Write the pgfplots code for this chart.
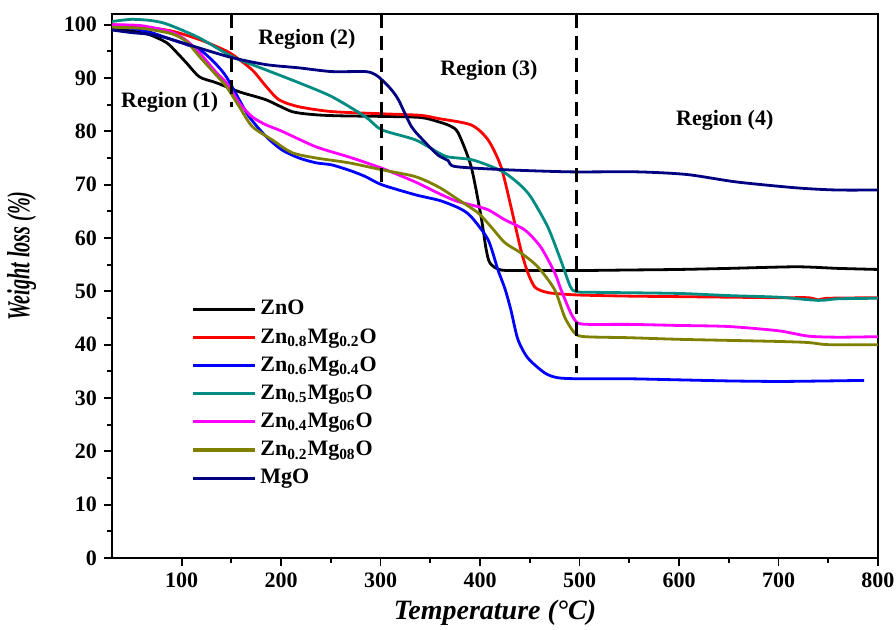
\documentclass[border=0pt]{standalone}
\usepackage{fontspec}
\setmainfont{Liberation Serif}
\usepackage{pgfplots}
\pgfplotsset{compat=1.18}
\definecolor{cteal}{RGB}{0,140,130}
\definecolor{colive}{RGB}{128,128,0}
\definecolor{cnavy}{RGB}{0,0,128}
\definecolor{cmag}{RGB}{255,0,255}
\begin{document}
\begin{tikzpicture}
\useasboundingbox (-56pt,-36pt) rectangle (392pt,279pt);
\begin{axis}[
  scale only axis, width=383pt, height=272pt,
  xmin=30, xmax=800, ymin=0, ymax=102,
  xtick={100,200,...,800}, ytick={0,10,...,100},
  minor x tick num=1, minor y tick num=1,
  tick pos=left, tick align=outside,
  major tick length=4pt, minor tick length=2.5pt,
  every tick/.style={black, line width=0.9pt},
  axis line style={line width=1pt},
  /pgf/number format/assume math mode=true,
  ticklabel style={font=\fontsize{11}{13}\selectfont\bfseries},
  xlabel={\fontsize{14}{16}\selectfont\bfseries\itshape Temperature (°C)},
  ylabel={\scalebox{0.63}[1]{\fontsize{16}{18}\selectfont\bfseries\itshape Weight loss (\%)}},
  xlabel style={yshift=1pt},
  ylabel style={at={(axis description cs:-0.118,0.555)}, anchor=center},
  legend style={draw=none, fill=none, at={(0.095,0.489)}, anchor=north west,
    font=\fontsize{11}{13}\selectfont\bfseries, row sep=1.3pt,
    legend cell align=left},
  legend image code/.code={\draw[#1, line width=1.6pt] (0pt,0pt) -- (31pt,0pt);},
  every axis plot/.append style={line width=1.4pt, smooth, tension=0.45},
]
\addplot[black] coordinates {(30,99.2)(50,98.8)(68,98.1)(85,96.6)(95,94.8)(105,92.8)(118,90.2)(135,89.1)(158,87.4)(185,85.9)(211,83.7)(235,83.1)(260,82.9)(300,82.8)(340,82.6)(358,81.8)(370,81)(378,79.7)(391,73.4)(401,64)(406,58)(410,55.3)(421,54)(450,53.9)(500,53.9)(550,54)(600,54.1)(650,54.3)(718,54.6)(760,54.3)(800,54.1)};
\addlegendentry{ZnO}
\addplot[red] coordinates {(30,100)(60,99.6)(90,98.8)(118,97.2)(140,95.5)(151,94.4)(171,91.5)(185,88.4)(198,85.9)(218,84.6)(251,83.7)(300,83.3)(340,83)(358,82.4)(391,81.2)(408,78.4)(421,73.4)(431,65.9)(441,57.8)(448,53.5)(455,50.8)(465,49.9)(475,49.6)(500,49.3)(550,49.1)(600,49)(650,48.9)(700,48.8)(730,48.8)(740,48.4)(750,48.7)(800,48.8)};
\addlegendentry{Zn\textsubscript{0.8}Mg\textsubscript{0.2}O}
\addplot[blue] coordinates {(30,99.5)(50,99.3)(68,98.6)(90,97.2)(118,95.3)(135,92.5)(145,90.2)(158,85.9)(168,82.7)(185,79)(201,76.5)(218,75)(235,74.1)(251,73.7)(270,72.6)(285,71.5)(301,70)(335,68.1)(360,67)(380,65.5)(391,64)(408,59.7)(418,54)(425,50.5)(431,46.5)(438,41)(448,37.5)(465,34.7)(478,33.8)(500,33.6)(550,33.6)(600,33.4)(650,33.2)(700,33.1)(750,33.2)(786,33.3)};
\addlegendentry{Zn\textsubscript{0.6}Mg\textsubscript{0.4}O}
\addplot[cteal] coordinates {(30,100.6)(50,101)(68,100.8)(80,100.4)(91,99.7)(118,97.5)(151,94)(185,91.5)(218,89.1)(251,86.5)(285,82.7)(301,80.3)(335,78.4)(358,76)(368,75.2)(391,74.7)(410,73.5)(425,72.2)(440,70)(451,67.7)(468,62.1)(481,55.9)(491,50.8)(498,49.9)(520,49.8)(600,49.6)(650,49.2)(700,48.9)(740,48.3)(760,48.6)(800,48.7)};
\addlegendentry{Zn\textsubscript{0.5}Mg\textsubscript{05}O}
\addplot[cmag] coordinates {(30,100)(60,99.8)(90,98.6)(105,97)(118,94.7)(135,91)(145,89.1)(158,85.3)(171,82.7)(185,81.2)(201,80)(235,77.1)(268,75.2)(301,73.1)(335,70.5)(358,68.4)(375,67)(391,66.2)(408,65.3)(425,63.4)(445,61.5)(461,58.3)(475,53.5)(481,50.5)(491,46)(498,44.1)(510,43.8)(550,43.8)(600,43.6)(650,43.4)(700,42.6)(730,41.6)(760,41.4)(800,41.5)};
\addlegendentry{Zn\textsubscript{0.4}Mg\textsubscript{06}O}
\addplot[colive] coordinates {(30,99.5)(60,99.3)(90,98.3)(105,96.8)(118,94)(135,90.5)(145,88.4)(158,84.6)(171,80.9)(191,78.4)(211,76)(235,75)(268,74.1)(301,72.8)(335,71.5)(358,69.6)(378,67.2)(398,64.7)(411,62.1)(425,59.1)(441,57.2)(458,54.6)(475,50.3)(485,45.2)(495,42.2)(505,41.5)(550,41.3)(600,41)(650,40.8)(700,40.6)(730,40.4)(750,40)(800,40)};
\addlegendentry{Zn\textsubscript{0.2}Mg\textsubscript{08}O}
\addplot[cnavy] coordinates {(30,99)(50,98.5)(68,98.2)(85,97.5)(118,95.6)(151,93.8)(185,92.5)(218,91.9)(251,91.2)(285,91.2)(295,90.6)(301,89.7)(310,88)(318,85.9)(331,80.9)(345,77.9)(358,75.5)(368,74.5)(375,73.4)(425,72.8)(491,72.4)(558,72.4)(608,71.9)(658,70.5)(718,69.4)(758,69)(800,69)};
\addlegendentry{MgO}
\addplot[black, line width=1.2pt, sharp plot, dash pattern=on 7pt off 4pt, forget plot] coordinates {(150,102)(150,84.5)};
\addplot[black, line width=1.2pt, sharp plot, dash pattern=on 7pt off 4pt, forget plot] coordinates {(301,102)(301,70)};
\addplot[black, line width=1.2pt, sharp plot, dash pattern=on 7pt off 4pt, forget plot] coordinates {(497,102)(497,34.7)};
\node[font=\fontsize{11}{13}\selectfont\bfseries] at (axis cs:88,85.5) {Region (1)};
\node[font=\fontsize{11}{13}\selectfont\bfseries] at (axis cs:226,97.2) {Region (2)};
\node[font=\fontsize{11}{13}\selectfont\bfseries] at (axis cs:409,91.5) {Region (3)};
\node[font=\fontsize{11}{13}\selectfont\bfseries] at (axis cs:646,82) {Region (4)};
\end{axis}
\end{tikzpicture}
\end{document}
